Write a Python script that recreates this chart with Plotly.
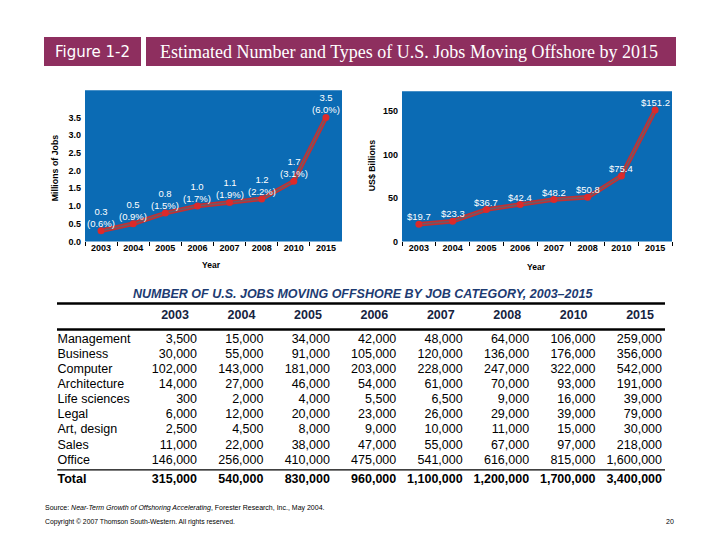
import plotly.graph_objects as go

# ---------------- data ----------------
years = ["2003", "2004", "2005", "2006", "2007", "2008", "2010", "2015"]
jobs_millions = [0.3, 0.5, 0.8, 1.0, 1.1, 1.2, 1.7, 3.5]
jobs_pct = [0.6, 0.9, 1.5, 1.7, 1.9, 2.2, 3.1, 6.0]
wages_billions = [19.7, 23.3, 36.7, 42.4, 48.2, 50.8, 75.4, 151.2]

job_categories = ["Management", "Business", "Computer", "Architecture", "Life sciences",
                  "Legal", "Art, design", "Sales", "Office"]
management = [3500, 15000, 34000, 42000, 48000, 64000, 106000, 259000]
business = [30000, 55000, 91000, 105000, 120000, 136000, 176000, 356000]
computer = [102000, 143000, 181000, 203000, 228000, 247000, 322000, 542000]
architecture = [14000, 27000, 46000, 54000, 61000, 70000, 93000, 191000]
life_sciences = [300, 2000, 4000, 5500, 6500, 9000, 16000, 39000]
legal = [6000, 12000, 20000, 23000, 26000, 29000, 39000, 79000]
art_design = [2500, 4500, 8000, 9000, 10000, 11000, 15000, 30000]
sales = [11000, 22000, 38000, 47000, 55000, 67000, 97000, 218000]
office = [146000, 256000, 410000, 475000, 541000, 616000, 815000, 1600000]
total = [315000, 540000, 830000, 960000, 1100000, 1200000, 1700000, 3400000]

category_rows = [management, business, computer, architecture, life_sciences,
                 legal, art_design, sales, office]

# ---------------- styling helpers ----------------
W, H = 720, 540
YS = 0.989  # vertical correction observed in the rendered page
def fx(p):
    return p / W
def fy(p):
    return 1 - p / (H * YS)

BLUE = "#0b6bb4"
MAROON = "#8e2f5f"
NAVY = "#1d3b72"
SANS = "Liberation Sans, Arial, sans-serif"

fig = go.Figure()

# ---------------- left chart: millions of jobs ----------------
fig.add_trace(go.Scatter(x=years, y=jobs_millions, mode="lines",
                         line=dict(color="#c52f31", width=4.5),
                         xaxis="x", yaxis="y", hoverinfo="skip", showlegend=False))
fig.add_trace(go.Scatter(x=years, y=jobs_millions, mode="lines+markers",
                         line=dict(color="#6c5a68", width=1.6),
                         marker=dict(color="#dc2a2a", size=7),
                         xaxis="x", yaxis="y", hoverinfo="skip", showlegend=False))

# ---------------- right chart: US$ billions ----------------
fig.add_trace(go.Scatter(x=years, y=wages_billions, mode="lines",
                         line=dict(color="#c52f31", width=4.5),
                         xaxis="x2", yaxis="y2", hoverinfo="skip", showlegend=False))
fig.add_trace(go.Scatter(x=years, y=wages_billions, mode="lines+markers",
                         line=dict(color="#6c5a68", width=1.6),
                         marker=dict(color="#dc2a2a", size=7),
                         xaxis="x2", yaxis="y2", hoverinfo="skip", showlegend=False))

# ---------------- table (text traces on a hidden axis) ----------------
col_idx = list(range(1, len(years) + 1))
row_idx = list(range(len(job_categories)))
total_row = 9.25
header_row = -1.55
label_col = -1.10

cell_font = dict(size=12.5, family=SANS, color="black")
fig.add_trace(go.Scatter(x=[label_col] * len(job_categories), y=row_idx, mode="text",
                         text=job_categories, textposition="middle right", textfont=cell_font,
                         xaxis="x3", yaxis="y3", hoverinfo="skip", showlegend=False))
fig.add_trace(go.Scatter(x=[label_col], y=[total_row], mode="text",
                         text=["<b>Total</b>"], textposition="middle right", textfont=cell_font,
                         xaxis="x3", yaxis="y3", hoverinfo="skip", showlegend=False))
fig.add_trace(go.Scatter(x=[c - 0.33 for c in col_idx], y=[header_row] * len(years), mode="text",
                         text=[f"<b>{y}</b>" for y in years], textposition="middle center",
                         textfont=dict(size=12.5, family=SANS, color="#16233f"),
                         xaxis="x3", yaxis="y3", hoverinfo="skip", showlegend=False))
for ci, yr in enumerate(years):
    vals = [row[ci] for row in category_rows]
    fig.add_trace(go.Scatter(x=[col_idx[ci]] * len(vals), y=row_idx, mode="text",
                             text=[f"{v:,}" for v in vals], textposition="middle left",
                             textfont=cell_font,
                             xaxis="x3", yaxis="y3", hoverinfo="skip", showlegend=False))
    fig.add_trace(go.Scatter(x=[col_idx[ci]], y=[total_row], mode="text",
                             text=[f"<b>{total[ci]:,}</b>"], textposition="middle left",
                             textfont=cell_font,
                             xaxis="x3", yaxis="y3", hoverinfo="skip", showlegend=False))

# ---------------- layout ----------------
tick_font = dict(size=9, family=SANS, color="black", weight="bold")
cat_axis = dict(type="category", range=[-0.5, 7.5], tickson="boundaries", ticks="outside",
                ticklen=4, tickcolor="black", showgrid=False, showline=False, zeroline=False,
                tickfont=tick_font, fixedrange=True)

px_per_col = (662 - 197) / 7
x3_range = [1 - 197 / px_per_col, 1 + (W - 197) / px_per_col]
px_per_row = 15.1 / YS
row0_px = 339 / YS
y3_range = [(H - row0_px) / px_per_row, -row0_px / px_per_row]

fig.update_layout(
    width=W, height=H,
    margin=dict(l=0, r=0, t=0, b=0),
    paper_bgcolor="white", plot_bgcolor="rgba(0,0,0,0)",
    showlegend=False,
    xaxis=dict(cat_axis, domain=[fx(85), fx(342)], anchor="y"),
    yaxis=dict(domain=[fy(241), fy(90)], anchor="x", range=[0, 4.27],
               tickvals=[0, 0.5, 1.0, 1.5, 2.0, 2.5, 3.0, 3.5], tickformat=".1f",
               showgrid=False, zeroline=False, showline=False, ticks="",
               ticklabelstandoff=3, tickfont=tick_font, fixedrange=True),
    xaxis2=dict(cat_axis, domain=[fx(402), fx(672)], anchor="y2"),
    yaxis2=dict(domain=[fy(241), fy(91)], anchor="x2", range=[0, 173],
                tickvals=[0, 50, 100, 150],
                showgrid=False, zeroline=False, showline=False, ticks="",
                ticklabelstandoff=3, tickfont=tick_font, fixedrange=True),
    xaxis3=dict(domain=[0, 1], anchor="y3", range=x3_range, visible=False, fixedrange=True),
    yaxis3=dict(domain=[0, 1], anchor="x3", range=y3_range, visible=False, fixedrange=True),
)

shapes = [
    dict(type="rect", xref="x domain", yref="y domain", x0=0, x1=1, y0=0, y1=1,
         fillcolor=BLUE, line_width=0, layer="below"),
    dict(type="rect", xref="x2 domain", yref="y2 domain", x0=0, x1=1, y0=0, y1=1,
         fillcolor=BLUE, line_width=0, layer="below"),
    dict(type="rect", xref="paper", yref="paper", x0=fx(44), x1=fx(141), y0=fy(66), y1=fy(37),
         fillcolor=MAROON, line_width=0),
    dict(type="rect", xref="paper", yref="paper", x0=fx(146), x1=fx(676), y0=fy(66), y1=fy(37),
         fillcolor=MAROON, line_width=0),
    dict(type="line", xref="paper", yref="paper", x0=fx(57), x1=fx(665), y0=fy(303), y1=fy(303),
         line=dict(color="black", width=2.5)),
    dict(type="line", xref="paper", yref="paper", x0=fx(57), x1=fx(665), y0=fy(329), y1=fy(329),
         line=dict(color="black", width=2.5)),
    dict(type="line", xref="paper", yref="paper", x0=fx(57), x1=fx(665), y0=fy(469), y1=fy(469),
         line=dict(color="black", width=1.2)),
]

label_font = dict(color="white", size=9.5, family=SANS)
annotations = []
# data labels (category axes: x given as the category's serial index)
for i, (v, p) in enumerate(zip(jobs_millions, jobs_pct)):
    annotations.append(dict(text=f"{v:.1f}<br>({p:.1f}%)", x=i, y=v, xref="x", yref="y",
                            showarrow=False, xanchor="center", yanchor="bottom", yshift=0,
                            font=label_font))
for i, v in enumerate(wages_billions):
    annotations.append(dict(text=f"${v:.1f}", x=i, y=v, xref="x2", yref="y2",
                            showarrow=False, xanchor="center", yanchor="bottom", yshift=0,
                            font=label_font))

annotations += [
    dict(text="Figure 1-2", x=fx(92.5), y=fy(51.5), xref="paper", yref="paper",
         showarrow=False, font=dict(family="DejaVu Sans, sans-serif", size=15, color="white"),
         xanchor="center", yanchor="middle"),
    dict(text="Estimated Number and Types of U.S. Jobs Moving Offshore by 2015",
         x=fx(409), y=fy(51.5), xref="paper", yref="paper", showarrow=False,
         font=dict(family="Liberation Serif, Times New Roman, serif", size=18, color="white"),
         xanchor="center", yanchor="middle"),
    dict(text="<b>Millions of Jobs</b>", x=fx(55), y=fy(168), xref="paper", yref="paper",
         showarrow=False, textangle=-90, font=dict(family=SANS, size=8.8, color="black"),
         xanchor="center", yanchor="middle"),
    dict(text="<b>Year</b>", x=fx(211), y=fy(265), xref="paper", yref="paper",
         showarrow=False, font=dict(family=SANS, size=8.5, color="black"),
         xanchor="center", yanchor="middle"),
    dict(text="<b>US$ Billions</b>", x=fx(372), y=fy(166), xref="paper", yref="paper",
         showarrow=False, textangle=-90, font=dict(family=SANS, size=8.8, color="black"),
         xanchor="center", yanchor="middle"),
    dict(text="<b>Year</b>", x=fx(536), y=fy(267), xref="paper", yref="paper",
         showarrow=False, font=dict(family=SANS, size=8.5, color="black"),
         xanchor="center", yanchor="middle"),
    dict(text="<b><i>NUMBER OF U.S. JOBS MOVING OFFSHORE BY JOB CATEGORY, 2003–2015</i></b>",
         x=fx(363), y=fy(293), xref="paper", yref="paper", showarrow=False,
         font=dict(family=SANS, size=12.5, color=NAVY), xanchor="center", yanchor="middle"),
    dict(text="Source: <i>Near-Term Growth of Offshoring Accelerating</i>, Forester Research, Inc., May 2004.",
         x=fx(43), y=fy(507), xref="paper", yref="paper", showarrow=False,
         font=dict(family=SANS, size=7, color="black"), xanchor="left", yanchor="middle"),
    dict(text="Copyright © 2007 Thomson South-Western. All rights reserved.",
         x=fx(43), y=fy(521), xref="paper", yref="paper", showarrow=False,
         font=dict(family=SANS, size=6.8, color="black"), xanchor="left", yanchor="middle"),
    dict(text="20", x=fx(676), y=fy(521), xref="paper", yref="paper", showarrow=False,
         font=dict(family=SANS, size=7, color="black"), xanchor="right", yanchor="middle"),
]

fig.update_layout(shapes=shapes, annotations=annotations)

fig.write_html("out.html", config={"displayModeBar": False, "staticPlot": True},
               post_script="document.body.style.margin='0';")
